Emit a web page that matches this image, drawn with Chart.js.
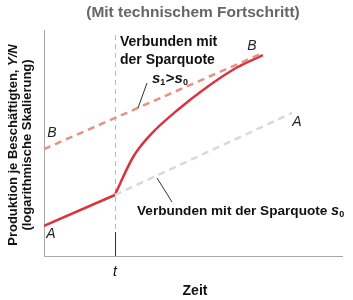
<!DOCTYPE html>
<html>
<head>
<meta charset="utf-8">
<script src="https://cdn.jsdelivr.net/npm/chart.js@4.4.0/dist/chart.umd.min.js"></script>
<style>
  body { margin: 0; background: #fff; }
  #wrap { width: 353px; height: 300px; }
</style>
</head>
<body>
<div id="wrap"><canvas id="wachstum" width="353" height="300"></canvas></div>
<script>
// Zeitpunkt t (Anstieg der Sparquote), x in Prozent der Zeitachse
var zeitpunktT = 23.7;

// Pfad vor t (rot, durchgezogen)
var vorT_x = [0, 23.7];
var vorT_y = [13.3, 27.0];

// Anpassungspfad nach t (rot, gekrümmt)
var nachT_x = [23.7, 29.8, 35.5, 45.5, 53.2, 64.5, 73.2];
var nachT_y = [27.0, 43.8, 53.5, 65.5, 73.5, 83.4, 88.9];

// Gleichgewichtspfad A (Sparquote s0, grau gestrichelt)
var pfadA_x = [23.7, 83];
var pfadA_y = [27.0, 63.3];

// Gleichgewichtspfad B (Sparquote s1, rosa gestrichelt)
var pfadB_x = [0, 73.2];
var pfadB_y = [47.3, 89.8];

function punkte(xs, ys) {
  return xs.map(function (x, i) { return { x: x, y: ys[i] }; });
}

var FONT = '"Liberation Sans", Arial, Helvetica, sans-serif';

var beschriftung = {
  id: 'beschriftung',
  beforeDatasetsDraw: function (chart) {
    var ctx = chart.ctx, a = chart.chartArea;
    var xs = chart.scales.x;
    var tx = Math.round(xs.getPixelForValue(zeitpunktT)) + 0.5;
    ctx.save();
    // Achsen
    ctx.strokeStyle = '#a8a8a8';
    ctx.lineWidth = 1;
    ctx.beginPath();
    ctx.moveTo(a.left + 0.5, a.top);
    ctx.lineTo(a.left + 0.5, a.bottom + 0.5);
    ctx.lineTo(a.right, a.bottom + 0.5);
    ctx.stroke();
    // senkrechte Linie bei t
    ctx.strokeStyle = '#b8b8b8';
    ctx.setLineDash([5, 4]);
    ctx.beginPath();
    ctx.moveTo(tx, a.top + 5);
    ctx.lineTo(tx, a.bottom - 24);
    ctx.stroke();
    ctx.setLineDash([]);
    ctx.strokeStyle = '#333';
    ctx.beginPath();
    ctx.moveTo(tx, a.bottom - 24);
    ctx.lineTo(tx, a.bottom);
    ctx.stroke();
    ctx.restore();
  },
  afterDatasetsDraw: function (chart) {
    var ctx = chart.ctx;
    var xs = chart.scales.x;
    ctx.save();
    ctx.textBaseline = 'middle';

    // Titel
    ctx.fillStyle = '#666';
    ctx.font = 'bold 15.5px ' + FONT;
    ctx.textAlign = 'center';
    ctx.fillText('(Mit technischem Fortschritt)', 193, 13);

    // x-Achse
    ctx.fillStyle = '#111';
    ctx.font = 'bold 14px ' + FONT;
    ctx.fillText('Zeit', 195, 291);
    ctx.font = 'italic 14px ' + FONT;
    ctx.fillText('t', xs.getPixelForValue(zeitpunktT), 272);

    // y-Achse (gedreht)
    ctx.save();
    ctx.translate(13, 145);
    ctx.rotate(-Math.PI / 2);
    ctx.textAlign = 'left';
    ctx.font = 'bold 13px ' + FONT;
    var t1 = 'Produktion je Beschäftigten, ';
    var w1 = ctx.measureText(t1).width;
    ctx.font = 'bold italic 13px ' + FONT;
    var w2 = ctx.measureText('Y/N').width;
    var start = -(w1 + w2) / 2;
    ctx.font = 'bold 13px ' + FONT;
    ctx.fillText(t1, start, 0);
    ctx.font = 'bold italic 13px ' + FONT;
    ctx.fillText('Y/N', start + w1, 0);
    ctx.font = 'bold 13px ' + FONT;
    ctx.textAlign = 'center';
    ctx.fillText('(logarithmische Skalierung)', 0, 14);
    ctx.restore();

    // Pfadbezeichnungen
    ctx.font = 'italic 14px ' + FONT;
    ctx.fillStyle = '#222';
    ctx.textAlign = 'center';
    ctx.fillText('A', 51, 234);
    ctx.fillText('B', 52, 133);
    ctx.fillText('B', 252, 46);
    ctx.fillText('A', 297, 122);

    // Anmerkungen
    ctx.fillStyle = '#111';
    ctx.textAlign = 'left';
    ctx.font = 'bold 14px ' + FONT;
    ctx.fillText('Verbunden mit', 120, 42);
    ctx.fillText('der Sparquote', 120, 60);
    // s1>s0
    var x = 152, y = 79;
    ctx.font = 'bold italic 15px ' + FONT;
    ctx.fillText('s', x, y); x += ctx.measureText('s').width;
    ctx.font = 'bold 9px ' + FONT;
    ctx.fillText('1', x, y + 4); x += ctx.measureText('1').width + 0.5;
    ctx.font = 'bold 15px ' + FONT;
    ctx.fillText('>', x, y); x += ctx.measureText('>').width;
    ctx.font = 'bold italic 15px ' + FONT;
    ctx.fillText('s', x, y); x += ctx.measureText('s').width;
    ctx.font = 'bold 9px ' + FONT;
    ctx.fillText('0', x, y + 4);

    ctx.font = 'bold 13.6px ' + FONT;
    var txt = 'Verbunden mit der Sparquote ';
    ctx.fillText(txt, 137, 211);
    x = 137 + ctx.measureText(txt).width;
    ctx.font = 'bold italic 14.5px ' + FONT;
    ctx.fillText('s', x, 211); x += ctx.measureText('s').width;
    ctx.font = 'bold 9px ' + FONT;
    ctx.fillText('0', x, 215);

    // Hinweislinien
    ctx.strokeStyle = '#333';
    ctx.lineWidth = 1;
    ctx.beginPath();
    ctx.moveTo(147, 83);
    ctx.lineTo(138, 108);
    ctx.moveTo(157, 178);
    ctx.lineTo(172, 202);
    ctx.stroke();
    ctx.restore();
  }
};

new Chart(document.getElementById('wachstum').getContext('2d'), {
  type: 'scatter',
  data: {
    datasets: [
      {
        label: 'Pfad A (s0)',
        data: punkte(pfadA_x, pfadA_y),
        showLine: true,
        borderColor: '#d9d9d9',
        borderWidth: 2.5,
        borderDash: [7, 5],
        pointRadius: 0
      },
      {
        label: 'Pfad B (s1)',
        data: punkte(pfadB_x, pfadB_y),
        showLine: true,
        borderColor: '#e59282',
        borderWidth: 2.5,
        borderDash: [7, 5],
        pointRadius: 0
      },
      {
        label: 'vor t',
        data: punkte(vorT_x, vorT_y),
        showLine: true,
        borderColor: '#d9343d',
        borderWidth: 2.5,
        pointRadius: 0
      },
      {
        label: 'nach t',
        data: punkte(nachT_x, nachT_y),
        showLine: true,
        borderColor: '#d9343d',
        borderWidth: 2.5,
        cubicInterpolationMode: 'monotone',
        pointRadius: 0
      }
    ]
  },
  options: {
    responsive: false,
    animation: false,
    layout: { padding: { left: 44, top: 30, right: 10, bottom: 44 } },
    plugins: { legend: { display: false }, tooltip: { enabled: false } },
    scales: {
      x: { type: 'linear', min: 0, max: 100, display: false },
      y: { type: 'linear', min: 0, max: 100, display: false }
    }
  },
  plugins: [beschriftung]
});
</script>
</body>
</html>
